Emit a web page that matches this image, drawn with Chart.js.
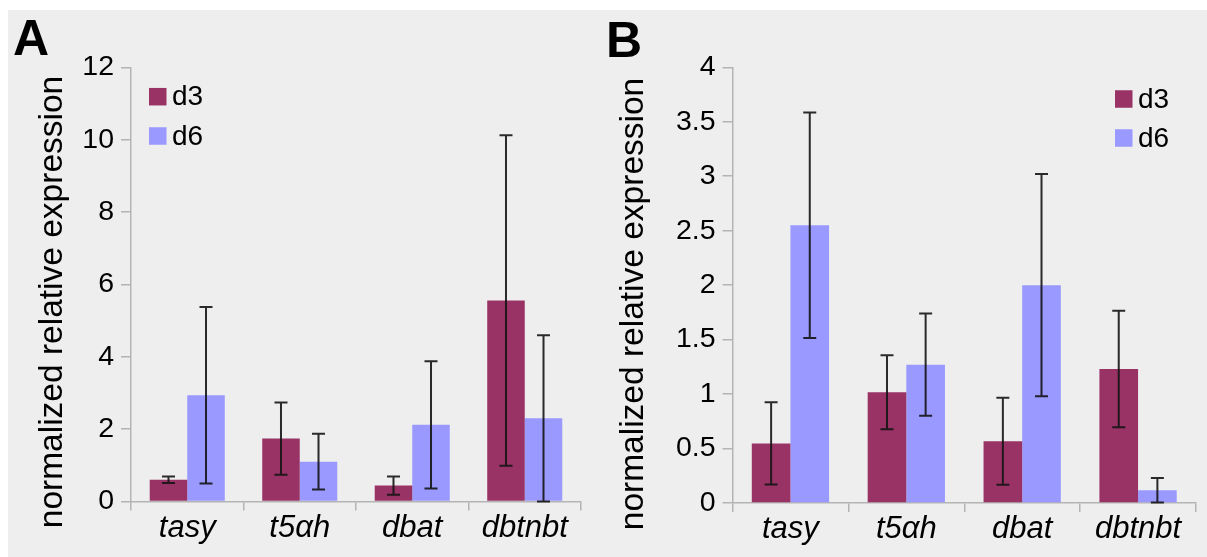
<!DOCTYPE html>
<html>
<head>
<meta charset="utf-8">
<script src="https://cdn.jsdelivr.net/npm/chart.js@4/dist/chart.umd.min.js"></script>
<style>
  html, body { margin: 0; padding: 0; background: #ffffff; width: 1207px; height: 557px; overflow: hidden; }
  #bg { position: absolute; left: 8px; top: 10px; right: 0; bottom: 0; background: #eeeeee; }
  canvas { position: absolute; top: 0; }
  #chartA { left: 0; }
  #chartB { left: 600px; }
</style>
</head>
<body>
<div id="bg"></div>
<canvas id="chartA" width="600" height="557"></canvas>
<canvas id="chartB" width="607" height="557"></canvas>
<script>
// Genes on the x axis and the two sampling days
const genes = ['tasy', 't5\u03b1h', 'dbat', 'dbtnbt'];
const seriesNames = ['d3', 'd6'];
const seriesColors = ['#993366', '#9999ff'];
const axisTitle = 'normalized relative expression';

// Panel A: mean expression and error (±)
const d3A = [0.60, 1.74, 0.44, 5.56];
const d3AErr = [0.09, 1.00, 0.25, 4.57];
const d6A = [2.94, 1.10, 2.12, 2.30];
const d6AErr = [2.44, 0.77, 1.76, 2.30];
const yMaxA = 12;
const yStepA = 2;

// Panel B: mean expression and error (±)
const d3B = [0.547, 1.016, 0.567, 1.23];
const d3BErr = [0.377, 0.34, 0.40, 0.535];
const d6B = [2.55, 1.27, 2.00, 0.117];
const d6BErr = [1.035, 0.47, 1.02, 0.113];
const yMaxB = 4;
const yStepB = 0.5;

const FONT = '"Liberation Sans", Arial, Helvetica, sans-serif';
const AXIS_GREY = '#b4b4b4';

// Draws ± error bars on top of each bar
const errorBarPlugin = {
  id: 'errorBars',
  afterDatasetsDraw(chart, args, opts) {
    const ctx = chart.ctx;
    const y = chart.scales.y;
    ctx.save();
    ctx.strokeStyle = opts.color;
    ctx.lineWidth = opts.lineWidth;
    chart.data.datasets.forEach((ds, i) => {
      const errs = opts.errors[i];
      chart.getDatasetMeta(i).data.forEach((bar, j) => {
        const v = ds.data[j];
        const e = errs[j];
        const yHi = y.getPixelForValue(v + e);
        const yLo = y.getPixelForValue(Math.max(0, v - e));
        const x = bar.x;
        const h = opts.capWidth / 2;
        ctx.beginPath();
        ctx.moveTo(x, yHi); ctx.lineTo(x, yLo);
        ctx.moveTo(x - h, yHi); ctx.lineTo(x + h, yHi);
        ctx.moveTo(x - h, yLo); ctx.lineTo(x + h, yLo);
        ctx.stroke();
      });
    });
    ctx.restore();
  }
};

// Panel letter, rotated axis title and the inset legend
const panelDecorPlugin = {
  id: 'panelDecor',
  afterDraw(chart, args, opts) {
    const ctx = chart.ctx;
    ctx.save();
    ctx.fillStyle = '#000';
    ctx.font = 'bold 50px ' + FONT;
    ctx.textAlign = 'left';
    ctx.textBaseline = 'alphabetic';
    ctx.fillText(opts.letter, opts.letterX, opts.letterY);

    ctx.save();
    ctx.translate(opts.titleX, opts.titleCenterY);
    ctx.rotate(-Math.PI / 2);
    ctx.font = '33.5px ' + FONT;
    ctx.textAlign = 'center';
    ctx.fillText(axisTitle, 0, 0);
    ctx.restore();

    ctx.font = '28px ' + FONT;
    ctx.textBaseline = 'middle';
    ctx.textAlign = 'left';
    chart.data.datasets.forEach((ds, i) => {
      const cy = opts.legendY[i];
      ctx.fillStyle = ds.backgroundColor;
      ctx.fillRect(opts.legendX, cy - 8.75, 17.5, 17.5);
      ctx.fillStyle = '#000';
      ctx.fillText(ds.label, opts.legendX + 23, cy + 1);
    });
    ctx.restore();
  }
};

function makePanel(canvasId, d3, d3Err, d6, d6Err, yMax, yStep, layout, decor) {
  return new Chart(document.getElementById(canvasId), {
    type: 'bar',
    data: {
      labels: genes,
      datasets: [
        { label: seriesNames[0], data: d3, backgroundColor: seriesColors[0], borderWidth: 0,
          barPercentage: 1.0, categoryPercentage: 0.667 },
        { label: seriesNames[1], data: d6, backgroundColor: seriesColors[1], borderWidth: 0,
          barPercentage: 1.0, categoryPercentage: 0.667 }
      ]
    },
    options: {
      responsive: false,
      animation: false,
      devicePixelRatio: 1,
      layout: { padding: { top: layout.top, right: layout.right, left: 0, bottom: 0 } },
      plugins: {
        legend: { display: false },
        tooltip: { enabled: false },
        errorBars: { errors: [d3Err, d6Err], color: 'rgba(20,20,20,0.9)', lineWidth: 2, capWidth: 13 },
        panelDecor: decor
      },
      scales: {
        x: {
          type: 'category',
          offset: true,
          grid: { offset: true, drawOnChartArea: false, drawTicks: true, tickLength: 9, color: AXIS_GREY, lineWidth: 1.5 },
          border: { display: true, color: AXIS_GREY, width: 1.5 },
          ticks: { color: '#000', padding: -1, font: { family: FONT, size: 31, style: 'italic' } },
          afterFit(s) { s.height = layout.xHeight; }
        },
        y: {
          min: 0,
          max: yMax,
          ticks: {
            stepSize: yStep, color: '#000', padding: 7, font: { family: FONT, size: 28.5 },
            callback: (v) => String(Number(v))
          },
          grid: { drawOnChartArea: false, drawTicks: true, tickLength: 10, color: AXIS_GREY, lineWidth: 1.5 },
          border: { display: true, color: AXIS_GREY, width: 1.5 },
          afterFit(s) { s.width = layout.yWidth; }
        }
      }
    },
    plugins: [errorBarPlugin, panelDecorPlugin]
  });
}

makePanel('chartA', d3A, d3AErr, d6A, d6AErr, yMaxA, yStepA,
  { top: 67.5, right: 19, yWidth: 131, xHeight: 55.5 },
  { letter: 'A', letterX: 13, letterY: 55, titleX: 62, titleCenterY: 302, legendX: 149, legendY: [96.7, 136] });

makePanel('chartB', d3B, d3BErr, d6B, d6BErr, yMaxB, yStepB,
  { top: 67.3, right: 11, yWidth: 132.5, xHeight: 54 },
  { letter: 'B', letterX: 6, letterY: 57, titleX: 43, titleCenterY: 304, legendX: 515, legendY: [99, 138] });
</script>
</body>
</html>
